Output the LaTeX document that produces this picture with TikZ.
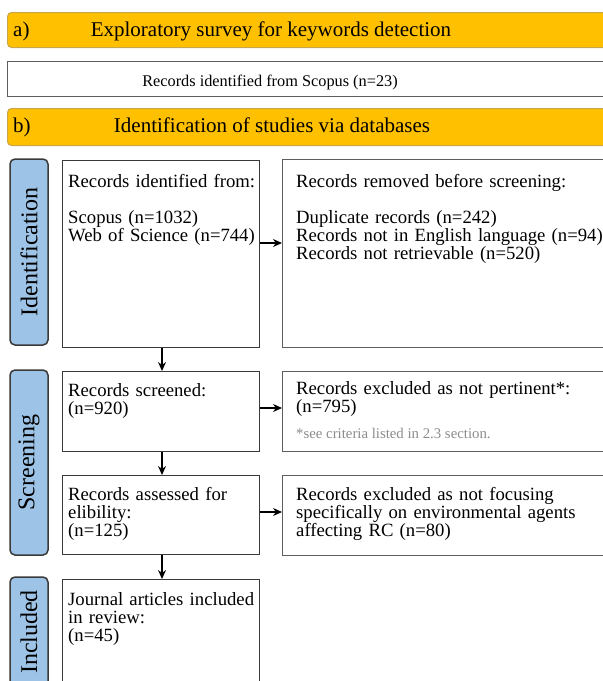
\documentclass[tikz,border=0pt]{standalone}
\usepackage{fontspec}
\setmainfont{Liberation Serif}
\usetikzlibrary{arrows.meta}
\definecolor{gold}{HTML}{FFC000}
\definecolor{goldline}{HTML}{C9A54A}
\definecolor{phase}{HTML}{9DC3E6}
\definecolor{phaseline}{HTML}{3A3A3A}
\definecolor{boxline}{HTML}{3A3A3A}
\definecolor{boxlinelight}{HTML}{5E5E5E}
\definecolor{notegray}{HTML}{8C8C8C}
\begin{document}
\setlength{\lineskiplimit}{-100pt}
\begin{tikzpicture}[x=1pt,y=-1pt,
  bar/.style={draw=goldline, line width=1pt, fill=gold, rounded corners=4pt, anchor=north west, inner sep=0pt},
  frame/.style={draw=boxline, line width=1.2pt, fill=white, anchor=north west, inner sep=0pt},
  framelight/.style={frame, draw=boxlinelight},
  phasebox/.style={draw=phaseline, line width=1.5pt, fill=phase, rounded corners=5pt, rotate=90, inner sep=0pt,
    font=\fontsize{24}{24}\selectfont},
  head/.style={anchor=base, inner sep=0pt, font=\fontsize{21}{21}\selectfont},
  txt/.style={anchor=base west, inner sep=0pt, text width=330pt, align=left,
    font=\fontsize{18.7}{18}\selectfont},
  note/.style={anchor=base west, inner sep=0pt, text=notegray, font=\fontsize{14.8}{14.8}\selectfont},
  flow/.style={line width=1.3pt, -{Stealth[length=9pt,width=8pt]}}
]
\useasboundingbox (0,0) rectangle (603,681);
\clip (0,0) rectangle (603,681);

% a) bar
\node[bar, minimum width=700pt, minimum height=35pt] (bara) at (7,12) {};
\node[head, anchor=base west] (labela) at (13,36) {a)};
\node[head] (titlea) at (271,36) {Exploratory survey for keywords detection};

% survey box
\node[framelight, minimum width=700pt, minimum height=35pt] (survey) at (7,61) {};
\node[anchor=base, inner sep=0pt, font=\fontsize{16.3}{16.3}\selectfont] (surveytxt) at (270,86) {Records identified from Scopus (n=23)};

% b) bar
\node[bar, minimum width=700pt, minimum height=37pt] (barb) at (7,108) {};
\node[head, anchor=base west] (labelb) at (13,132) {b)};
\node[head] (titleb) at (272,132) {Identification of studies via databases};

% phase labels
\node[phasebox, minimum width=186pt, minimum height=38pt] (pid) at (29,252) {Identification};
\node[phasebox, minimum width=185pt, minimum height=38pt] (pscr) at (29,462.5) {Screening};
\node[phasebox, minimum width=110pt, minimum height=38pt] (pinc) at (29,632) {Included};

% left column boxes
\node[frame, minimum width=197pt, minimum height=187pt] (b1) at (62,160) {};
\node[frame, minimum width=197pt, minimum height=80pt] (b3) at (62,371) {};
\node[frame, minimum width=197pt, minimum height=79pt] (b4) at (62,475) {};
\node[frame, minimum width=197pt, minimum height=110pt] (b5) at (62,579) {};

% right column boxes
\node[framelight, minimum width=400pt, minimum height=188pt] (b2) at (282,159) {};
\node[framelight, minimum width=400pt, minimum height=80pt] (b6) at (282,371) {};
\node[framelight, minimum width=400pt, minimum height=80pt] (b7) at (282,475) {};

% texts
\node[txt] (t1) at (68,187) {Records identified from:\\ \vspace{18pt}Scopus (n=1032)\\Web of Science (n=744)};
\node[txt] (t2) at (296,187) {Records removed before screening:\\ \vspace{18pt}Duplicate records (n=242)\\Records not in English language (n=94)\\Records not retrievable (n=520)};
\node[txt] (t3) at (68,396) {Records screened:\\(n=920)};
\node[txt] (t6) at (296,394) {Records excluded as not pertinent*:\\(n=795)};
\node[note] (t6n) at (296,438) {*see criteria listed in 2.3 section.};
\node[txt] (t4) at (68,500) {Records assessed for\\elibility:\\(n=125)};
\node[txt] (t7) at (296,500) {Records excluded as not focusing\\specifically on environmental agents\\affecting RC (n=80)};
\node[txt] (t5) at (68,605) {Journal articles included\\in review:\\(n=45)};

% connectors
\draw[flow] (b1.east |- 0,243) -- (b2.west |- 0,243);
\draw[flow] (b3.east |- 0,408) -- (b6.west |- 0,408);
\draw[flow] (b4.east |- 0,512) -- (b7.west |- 0,512);
\draw[flow] (b1.south -| 162,0) -- (b3.north -| 162,0);
\draw[flow] (b3.south -| 162,0) -- (b4.north -| 162,0);
\draw[flow] (b4.south -| 162,0) -- (b5.north -| 162,0);
\end{tikzpicture}
\end{document}
